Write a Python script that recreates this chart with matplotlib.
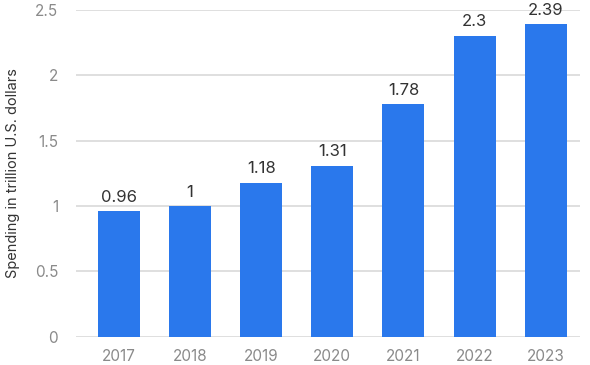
import matplotlib
matplotlib.use('Agg')
import matplotlib.pyplot as plt

years = ['2017', '2018', '2019', '2020', '2021', '2022', '2023']
spending = [0.96, 1, 1.18, 1.31, 1.78, 2.3, 2.39]
labels = ['0.96', '1', '1.18', '1.31', '1.78', '2.3', '2.39']
yticks = [0, 0.5, 1, 1.5, 2, 2.5]

plt.rcParams['font.family'] = ['Inter', 'DejaVu Sans']

fig = plt.figure(figsize=(5.9, 3.65), dpi=100)
ax = fig.add_axes([0.129, 0.077, 0.854, 0.896])

x = list(range(len(years)))
bars = ax.bar(x, spending, width=0.59, color='#2a78ec', zorder=3)

for bar, lab in zip(bars, labels):
    ax.text(bar.get_x() + bar.get_width() / 2, bar.get_height() + 0.05, lab,
            ha='center', va='bottom', color='#333333', fontsize=12, zorder=4)

ax.set_xlim(-0.6, 6.48)
ax.set_ylim(0, 2.5)
ax.set_yticks(yticks)
ax.set_yticklabels(['0', '0.5', '1', '1.5', '2', '2.5'])
ax.set_xticks(x)
ax.set_xticklabels(years)
ax.grid(axis='y', color='#dcdcdc', linewidth=1.3, zorder=0)
ax.tick_params(axis='both', length=0, colors='#8a8a8a', labelsize=11)
ax.tick_params(axis='y', pad=13)
ax.tick_params(axis='x', pad=9)
for s in ax.spines.values():
    s.set_visible(False)
ax.set_ylabel('Spending in trillion U.S. dollars', color='#333333', fontsize=10.5)
ax.yaxis.set_label_coords(-0.112, 0.5)

fig.savefig('out.png', dpi=100)
